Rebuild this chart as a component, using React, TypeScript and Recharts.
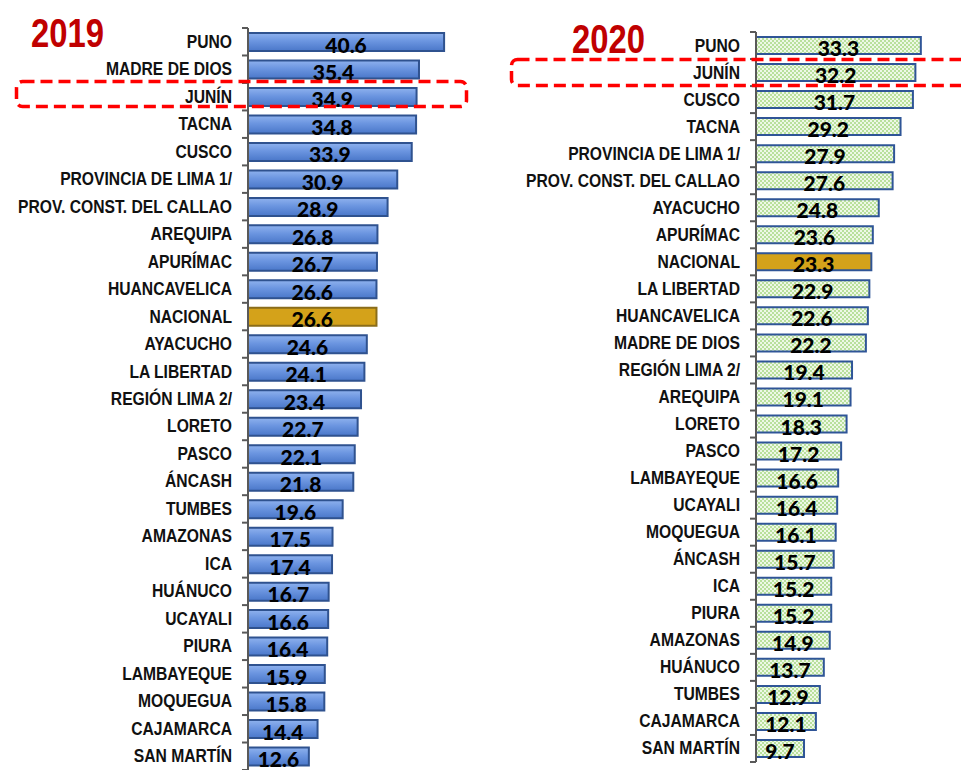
import { BarChart, Bar, XAxis, YAxis, Cell, LabelList } from 'recharts'

const regions2019 = [
  'PUNO', 'MADRE DE DIOS', 'JUNÍN', 'TACNA', 'CUSCO', 'PROVINCIA DE LIMA 1/',
  'PROV. CONST. DEL CALLAO', 'AREQUIPA', 'APURÍMAC', 'HUANCAVELICA', 'NACIONAL',
  'AYACUCHO', 'LA LIBERTAD', 'REGIÓN LIMA 2/', 'LORETO', 'PASCO', 'ÁNCASH', 'TUMBES',
  'AMAZONAS', 'ICA', 'HUÁNUCO', 'UCAYALI', 'PIURA', 'LAMBAYEQUE', 'MOQUEGUA',
  'CAJAMARCA', 'SAN MARTÍN',
]
const values2019 = [
  40.6, 35.4, 34.9, 34.8, 33.9, 30.9, 28.9, 26.8, 26.7, 26.6, 26.6, 24.6, 24.1, 23.4,
  22.7, 22.1, 21.8, 19.6, 17.5, 17.4, 16.7, 16.6, 16.4, 15.9, 15.8, 14.4, 12.6,
]

const regions2020 = [
  'PUNO', 'JUNÍN', 'CUSCO', 'TACNA', 'PROVINCIA DE LIMA 1/', 'PROV. CONST. DEL CALLAO',
  'AYACUCHO', 'APURÍMAC', 'NACIONAL', 'LA LIBERTAD', 'HUANCAVELICA', 'MADRE DE DIOS',
  'REGIÓN LIMA 2/', 'AREQUIPA', 'LORETO', 'PASCO', 'LAMBAYEQUE', 'UCAYALI', 'MOQUEGUA',
  'ÁNCASH', 'ICA', 'PIURA', 'AMAZONAS', 'HUÁNUCO', 'TUMBES', 'CAJAMARCA', 'SAN MARTÍN',
]
const values2020 = [
  33.3, 32.2, 31.7, 29.2, 27.9, 27.6, 24.8, 23.6, 23.3, 22.9, 22.6, 22.2, 19.4, 19.1,
  18.3, 17.2, 16.6, 16.4, 16.1, 15.7, 15.2, 15.2, 14.9, 13.7, 12.9, 12.1, 9.7,
]

// Arial Narrow look: Liberation Sans bold squeezed horizontally
const labelFont = '"Liberation Sans", Arial, sans-serif'
const NARROW = 0.82
const LABEL_NARROW = 0.87
const valueFont = 'Lato, "Open Sans", sans-serif'
const AXIS = '#595959'

interface PanelProps {
  names: string[]
  values: number[]
  left: number
  width: number
  axisW: number
  top: number
  bottom: number
  max: number
  pxPerUnit: number
  barSize: number
  fill: string
  stroke: string
  nationalStroke: string
}

function Panel(p: PanelProps) {
  const { names, values, left, width, axisW, top, bottom, max, pxPerUnit, barSize, fill, stroke } = p
  const data = names.map((name, i) => ({ name, v: values[i] }))
  const height = 770
  const band = (height - top - bottom) / names.length

  const Tick = (props: any) => {
    const { y, payload, index } = props
    const last = index === names.length - 1
    const tx = axisW - 16
    return (
      <g>
        <text transform={`translate(${tx},${y + 6}) scale(${LABEL_NARROW},1)`} textAnchor="end"
          fontFamily={labelFont} fontWeight={700} fontSize={18} fill="#111">
          {payload.value}
        </text>
        <line x1={axisW - 6} x2={axisW} y1={y - band / 2} y2={y - band / 2} stroke={AXIS} strokeWidth={2} />
        {last && (
          <line x1={axisW - 6} x2={axisW} y1={y + band / 2} y2={y + band / 2} stroke={AXIS} strokeWidth={2} />
        )}
      </g>
    )
  }

  const ValueLabel = (props: any) => {
    const { x, y, width: w, height: h, value } = props
    return (
      <text x={x + w / 2} y={y + h / 2 + 2} textAnchor="middle" dominantBaseline="central"
        fontFamily={valueFont} fontWeight={900} fontSize={21} fill="#000">
        {Number(value).toFixed(1)}
      </text>
    )
  }

  return (
    <div style={{ position: 'absolute', left, top: 0 }}>
      <BarChart width={width} height={height} data={data} layout="vertical"
        margin={{ top, right: width - axisW - max * pxPerUnit, bottom, left: 0 }}
        barSize={barSize}>
        <defs>
          <linearGradient id="blueGrad" x1="0" y1="0" x2="0" y2="1">
            <stop offset="0%" stopColor="#8fb2ee" />
            <stop offset="45%" stopColor="#6b95e0" />
            <stop offset="100%" stopColor="#4a77c9" />
          </linearGradient>
          <pattern id="chk" width="4" height="4" patternUnits="userSpaceOnUse">
            <rect width="4" height="4" fill="#eef8e6" />
            <rect width="2" height="2" fill="#b9e09c" />
            <rect x="2" y="2" width="2" height="2" fill="#b9e09c" />
          </pattern>
        </defs>
        <XAxis type="number" domain={[0, max]} hide />
        <YAxis type="category" dataKey="name" width={axisW} interval={0}
          axisLine={{ stroke: AXIS, strokeWidth: 2 }} tickLine={false} tick={<Tick />} />
        <Bar dataKey="v" stroke={stroke} strokeWidth={2} isAnimationActive={false}>
          {data.map((d) => (
            <Cell key={d.name} fill={d.name === 'NACIONAL' ? '#d4a21a' : fill}
              stroke={d.name === 'NACIONAL' ? p.nationalStroke : stroke} />
          ))}
          <LabelList dataKey="v" content={<ValueLabel />} />
        </Bar>
      </BarChart>
    </div>
  )
}

const titleStyle = {
  position: 'absolute' as const, fontFamily: labelFont, fontWeight: 700, fontSize: 40,
  color: '#c00000', lineHeight: 1, margin: 0, transform: `scaleX(${NARROW})`, transformOrigin: 'left top',
}

export default function App() {
  return (
    <div style={{ position: 'absolute', left: 0, top: 0, width: 961, height: 770, background: '#fff', overflow: 'hidden' }}>
      <Panel names={regions2019} values={values2019} left={0} width={480} axisW={248}
        top={28} bottom={0} max={45} pxPerUnit={4.83} barSize={18}
        fill="url(#blueGrad)" stroke="#2f528f" nationalStroke="#8a6d1a" />
      <Panel names={regions2020} values={values2020} left={480} width={481} axisW={276}
        top={32} bottom={8} max={40} pxPerUnit={4.95} barSize={17}
        fill="url(#chk)" stroke="#2f5597" nationalStroke="#2f5597" />
      <div style={{ ...titleStyle, left: 31, top: 13 }}>2019</div>
      <div style={{ ...titleStyle, left: 572, top: 19 }}>2020</div>
      {/* highlight boxes around JUNÍN */}
      <svg width={961} height={770} style={{ position: 'absolute', left: 0, top: 0, pointerEvents: 'none' }}>
        <rect x={16.5} y={81.5} width={450} height={25} rx={6} fill="none"
          stroke="#ff0000" strokeWidth={3.5} strokeDasharray="12 6" />
        <rect x={511.5} y={59.5} width={470} height={26} rx={6} fill="none"
          stroke="#ff0000" strokeWidth={3.5} strokeDasharray="12 6" />
      </svg>
    </div>
  )
}
